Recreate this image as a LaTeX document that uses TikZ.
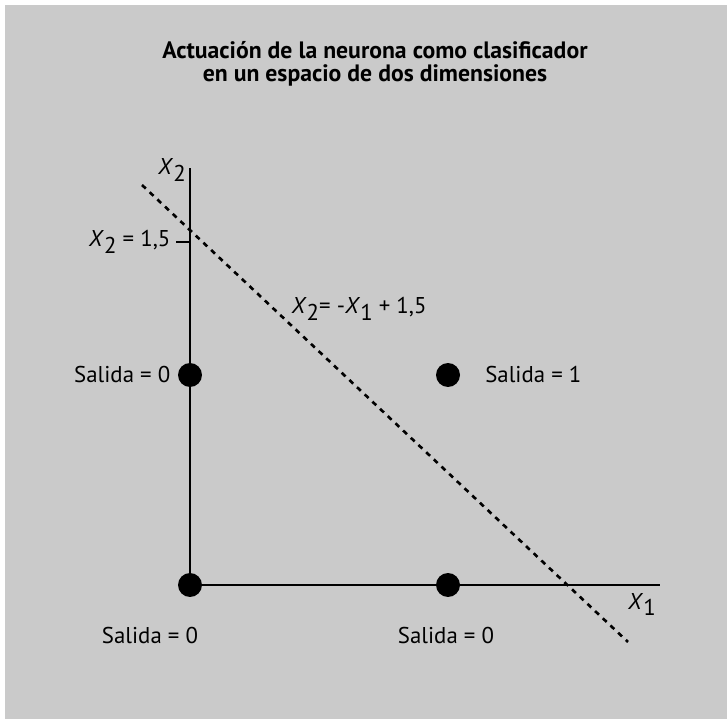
\documentclass[tikz,border=0pt]{standalone}
\usepackage{fontspec}
\setmainfont{PT Sans}
\usetikzlibrary{positioning}
\definecolor{fondo}{RGB}{202,202,202}
\newcommand{\xsub}[2]{\textit{#1}\raisebox{-0.55ex}{#2}}

\begin{document}
\begin{tikzpicture}[x=0.02cm, y=-0.02cm,
  punto/.style={circle, fill=black, inner sep=0pt, minimum size=0.48cm},
  eje/.style={line width=1.5pt},
  etiq/.style={font=\fontsize{13}{15}\selectfont, inner sep=1pt},
  frontera/.style={line width=1.5pt, dash pattern=on 3pt off 3pt}
]
\fill[white] (0,0) rectangle (727,719);
\fill[fondo] (5,5) rectangle (727,719);

% titulo
\node[align=center, font=\fontsize{13.5}{13}\selectfont\bfseries] (titulo) at (375,64)
  {Actuación de la neurona como clasificador\\en un espacio de dos dimensiones};

% ejes
\node[punto] (p00) at (190,585) {};
\node[punto] (p10) at (448,585) {};
\node[punto] (p01) at (190,375) {};
\node[punto] (p11) at (448,375) {};
\coordinate (ytop) at (190,168);
\coordinate (xend) at (660,585);
\coordinate (tick) at (176,242);
\draw[eje] (p00.center) -- (ytop);
\draw[eje] (p00.center) -- (xend);
\draw[eje] (tick) -- (190,242);

% recta de separacion
\coordinate (r0) at (142,185);
\coordinate (r1) at (628,642);
\draw[frontera] (r0) -- (r1);

% etiquetas
\node[etiq, anchor=east] (lx2) at (188,170) {\xsub{X}{2}};
\node[etiq, anchor=north east] (lx1) at (658,591) {\xsub{X}{1}};
\node[etiq, left=2pt of tick] (lcorte) {\xsub{X}{2} = 1,5};
\node[etiq] (lrecta) at (359,309) {\xsub{X}{2}= -\xsub{X}{1} + 1,5};
\node[etiq, left=3pt of p01] (s01) {Salida = 0};
\node[etiq, right=13pt of p11] (s11) {Salida = 1};
\node[etiq] (s00) at (150,636) {Salida = 0};
\node[etiq] (s10) at (446,636) {Salida = 0};

\end{tikzpicture}
\end{document}
